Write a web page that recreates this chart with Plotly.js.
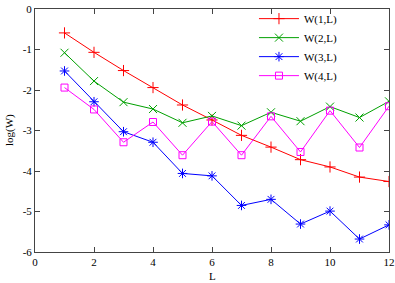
<!DOCTYPE html>
<html>
<head>
<meta charset="utf-8">
<script src="https://cdn.plot.ly/plotly-3.0.1.min.js"></script>
<style>html,body{margin:0;padding:0;background:#fff;}#chart{width:395px;height:283px;}</style>
</head>
<body>
<div id="chart"></div>
<script>
const L = [1,2,3,4,5,6,7,8,9,10,11,12];
const W1 = [-0.59,-1.07,-1.52,-1.94,-2.37,-2.74,-3.12,-3.41,-3.72,-3.90,-4.15,-4.26];
const W2 = [-1.08,-1.78,-2.30,-2.47,-2.81,-2.64,-2.88,-2.55,-2.77,-2.41,-2.68,-2.28];
const W3 = [-1.53,-2.29,-3.03,-3.29,-4.06,-4.12,-4.85,-4.70,-5.31,-4.99,-5.68,-5.33];
const W4 = [-1.94,-2.48,-3.29,-2.79,-3.61,-2.78,-3.61,-2.65,-3.53,-2.51,-3.42,-2.40];
const names = ["W(1,L)","W(2,L)","W(3,L)","W(4,L)"];
const xTitle = "L";
const yTitle = "log(W)";
const xTicks = [0,2,4,6,8,10,12];
const xTickText = ["0","2","4","6","8","10","12"];
const yTicks = [0,-1,-2,-3,-4,-5,-6];
const yTickText = ["0","-1","-2","-3","-4","-5","-6"];

const colors = ["#ff0000","#00a000","#0000ff","#ff00ff"];
const symbols = ["cross-thin-open","x-thin-open","asterisk-open","square-open"];
const series = [W1,W2,W3,W4];
const traces = series.map((s,i)=>({
  x: L, y: s, name: names[i], type: "scatter", mode: "lines+markers",
  line: {color: colors[i], width: 1},
  marker: {symbol: symbols[i], size: i===3 ? 7 : 8, color: colors[i], line: {color: colors[i], width: 1}}
}));
const font = {family: "Liberation Serif, Times New Roman, serif", size: 11, color: "#000"};
const axisCommon = {
  showgrid: false, zeroline: false, showline: true, linecolor: "#444", linewidth: 1,
  mirror: "ticks", ticks: "inside", ticklen: 5, tickwidth: 1, tickcolor: "#444",
  tickfont: font, ticklabeloverflow: "allow", automargin: false
};
const layout = {
  width: 395, height: 283,
  margin: {l: 35, r: 6, t: 4, b: 31},
  paper_bgcolor: "#fff", plot_bgcolor: "#fff",
  font: font,
  showlegend: true,
  legend: {x: 0.87, y: 1.02, xanchor: "right", yanchor: "top", bgcolor: "rgba(0,0,0,0)",
    font: font, itemwidth: 40, tracegroupgap: 0},
  xaxis: Object.assign({}, axisCommon, {range: [0,12], tickvals: xTicks, ticktext: xTickText}),
  yaxis: Object.assign({}, axisCommon, {range: [-6,0], tickvals: yTicks, ticktext: yTickText}),
  annotations: [
    {text: xTitle, xref: "paper", yref: "paper", x: 0.5, y: -0.1, xanchor: "center", yanchor: "middle",
     showarrow: false, font: font},
    {text: yTitle, xref: "paper", yref: "paper", x: -0.072, y: 0.5, xanchor: "center", yanchor: "middle",
     textangle: -90, showarrow: false, font: font}
  ]
};
Plotly.newPlot("chart", traces, layout, {staticPlot: true, displayModeBar: false});
</script>
</body>
</html>
